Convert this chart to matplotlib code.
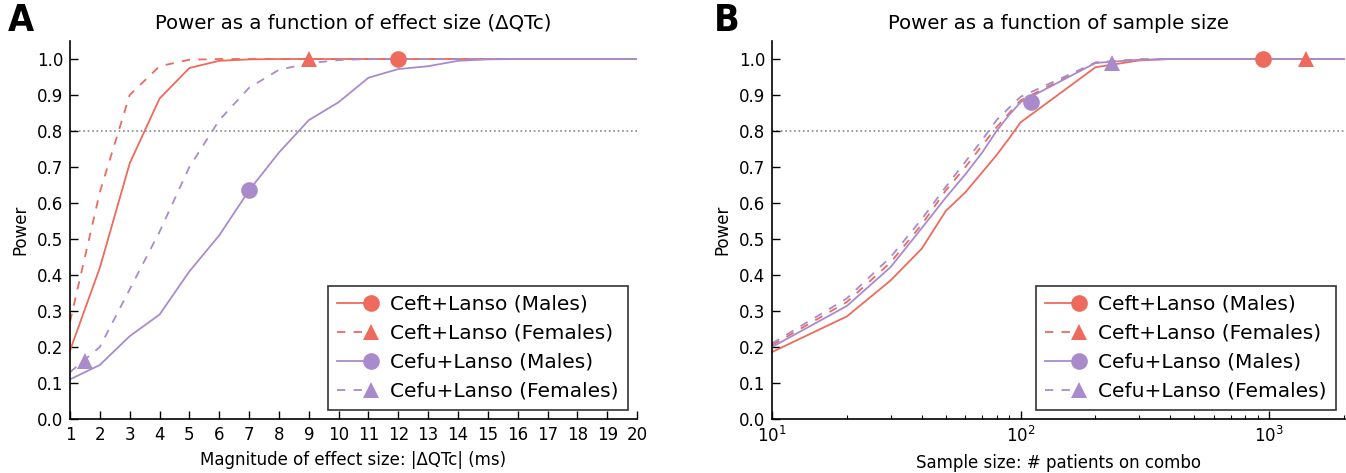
import numpy as np
import matplotlib
matplotlib.use("Agg")
import matplotlib.pyplot as plt
from matplotlib.lines import Line2D
from matplotlib.legend_handler import HandlerBase

# Panel A: power vs effect size (ms)
effect = [1, 2, 3, 4, 5, 6, 7, 8, 9, 10, 11, 12, 13, 14, 15, 16, 17, 18, 19, 20]
a_ceft_m = [0.19, 0.42, 0.71, 0.89, 0.975, 0.995, 0.999, 1.0, 1.0, 1.0, 1.0, 1.0, 1.0, 1.0, 1.0, 1.0, 1.0, 1.0, 1.0, 1.0]
a_ceft_f = [0.27, 0.63, 0.90, 0.98, 0.998, 1.0, 1.0, 1.0, 1.0, 1.0, 1.0, 1.0, 1.0, 1.0, 1.0, 1.0, 1.0, 1.0, 1.0, 1.0]
a_cefu_m = [0.11, 0.15, 0.23, 0.29, 0.41, 0.51, 0.635, 0.74, 0.83, 0.88, 0.948, 0.972, 0.98, 0.995, 0.999, 1.0, 1.0, 1.0, 1.0, 1.0]
a_cefu_f = [0.13, 0.20, 0.36, 0.52, 0.70, 0.83, 0.92, 0.97, 0.988, 0.997, 1.0, 1.0, 1.0, 1.0, 1.0, 1.0, 1.0, 1.0, 1.0, 1.0]
# observed points (x, power)
a_marks = {"ceft_m": (12, 1.0), "ceft_f": (9, 1.0), "cefu_m": (7, 0.635), "cefu_f": (1.5, 0.16)}

# Panel B: power vs sample size
samples = [10, 20, 30, 40, 50, 60, 70, 80, 90, 100, 200, 300, 400, 500, 1000, 2000]
b_ceft_m = [0.186, 0.285, 0.385, 0.473, 0.578, 0.63, 0.685, 0.733, 0.78, 0.824, 0.977, 0.996, 1.0, 1.0, 1.0, 1.0]
b_ceft_f = [0.205, 0.325, 0.435, 0.54, 0.635, 0.70, 0.76, 0.81, 0.85, 0.885, 0.99, 0.999, 1.0, 1.0, 1.0, 1.0]
b_cefu_m = [0.20, 0.314, 0.422, 0.53, 0.615, 0.68, 0.74, 0.80, 0.845, 0.88, 0.989, 0.998, 1.0, 1.0, 1.0, 1.0]
b_cefu_f = [0.21, 0.335, 0.45, 0.555, 0.645, 0.715, 0.775, 0.83, 0.865, 0.895, 0.99, 0.999, 1.0, 1.0, 1.0, 1.0]
b_marks = {"ceft_m": (946, 1.0), "ceft_f": (1410, 1.0), "cefu_m": (110, 0.88), "cefu_f": (233, 0.99)}

labels = {"ceft_m": "Ceft+Lanso (Males)", "ceft_f": "Ceft+Lanso (Females)",
          "cefu_m": "Cefu+Lanso (Males)", "cefu_f": "Cefu+Lanso (Females)"}
RED = "#EE6A5D"
PURPLE = "#A98BCB"
styles = {"ceft_m": (RED, "-", "o"), "ceft_f": (RED, "--", "^"),
          "cefu_m": (PURPLE, "-", "o"), "cefu_f": (PURPLE, "--", "^")}
order = ["ceft_m", "ceft_f", "cefu_m", "cefu_f"]
DASH = (4.6, 4.6)


class LineEndMarker(HandlerBase):
    # legend entry: line with the marker sitting at its right end
    def create_artists(self, legend, orig, xdescent, ydescent, width, height, fontsize, trans):
        y = (height - ydescent) / 2
        x1 = width - xdescent
        ln = Line2D([-xdescent, x1], [y, y], color=orig.get_color(), linestyle=orig.get_linestyle(),
                    linewidth=orig.get_linewidth(), transform=trans)
        if orig.get_linestyle() == "--":
            ln.set_dashes(DASH)
        mk = Line2D([x1], [y], marker=orig.get_marker(), markersize=orig.get_markersize(),
                    color=orig.get_color(), linestyle="none", markeredgewidth=0, transform=trans)
        return [ln, mk]


plt.rcParams["font.family"] = "DejaVu Sans"
fig = plt.figure(figsize=(13.46, 4.73), dpi=100)
axA = fig.add_axes([0.052, 0.1142, 0.4213, 0.7991])
axB = fig.add_axes([0.5736, 0.1142, 0.4257, 0.7991])


def style_axes(ax):
    for s in ["top", "right"]:
        ax.spines[s].set_visible(False)
    ax.spines["left"].set_linewidth(1.2)
    ax.spines["bottom"].set_linewidth(1.2)
    ax.tick_params(direction="in", length=6, width=1, labelsize=12, pad=5)
    ax.tick_params(which="minor", direction="in", length=3, width=0.8)
    ax.set_ylim(0, 1.05)
    ax.set_yticks(np.arange(0, 1.01, 0.1))
    ax.axhline(0.8, color="#888888", linestyle=":", linewidth=1.2, zorder=1)
    ax.set_ylabel("Power", fontsize=12, labelpad=5)


def draw(ax, xs, series, marks):
    handles = []
    for key in order:
        c, ls, m = styles[key]
        line, = ax.plot(xs, series[key], color=c, linestyle=ls, linewidth=1.3, zorder=2)
        if ls == "--":
            line.set_dashes(DASH)
        ax.plot([marks[key][0]], [marks[key][1]], marker=m, color=c, markersize=12,
                markeredgewidth=0, linestyle="none", zorder=3)
        handles.append(Line2D([], [], color=c, linestyle=ls, linewidth=1.3, marker=m, markersize=12,
                              label=labels[key]))
    leg = ax.legend(handles=handles, loc="lower right", fontsize=14.5, fancybox=False,
                    handler_map={Line2D: LineEndMarker()}, handlelength=1.7, handletextpad=0.95,
                    labelspacing=0.5, borderpad=0.45, borderaxespad=0.45)
    leg.get_frame().set_edgecolor("black")
    leg.get_frame().set_linewidth(1.2)


style_axes(axA)
draw(axA, effect, {"ceft_m": a_ceft_m, "ceft_f": a_ceft_f, "cefu_m": a_cefu_m, "cefu_f": a_cefu_f}, a_marks)
axA.set_xlim(1, 20)
axA.set_xticks(effect)
axA.set_xlabel("Magnitude of effect size: |ΔQTc| (ms)", fontsize=12, labelpad=5)
axA.set_title("Power as a function of effect size (ΔQTc)", fontsize=14.2, pad=9)

style_axes(axB)
draw(axB, samples, {"ceft_m": b_ceft_m, "ceft_f": b_ceft_f, "cefu_m": b_cefu_m, "cefu_f": b_cefu_f}, b_marks)
axB.set_xscale("log")
axB.set_xlim(10, 2020)
axB.set_xlabel("Sample size: # patients on combo", fontsize=12, labelpad=6)
axB.set_title("Power as a function of sample size", fontsize=14.2, pad=9)

for x, lab in [(0.006, "A"), (0.53, "B")]:
    fig.text(x, 0.993, lab, fontsize=27, fontweight="bold", fontstretch="condensed",
             va="top", ha="left")

fig.savefig("out.png", dpi=100)
